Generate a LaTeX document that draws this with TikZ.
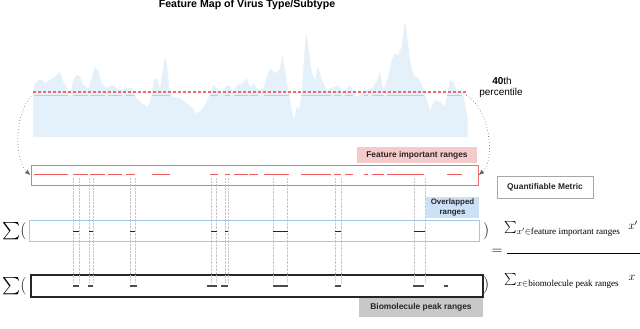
\documentclass[tikz,border=0pt]{standalone}
\usepackage{fontspec}
\setmainfont{Liberation Serif}
\setsansfont{Liberation Sans}
\usepackage{amsmath}
\usetikzlibrary{positioning,arrows.meta}
\definecolor{mapblue}{RGB}{229,241,250}
\definecolor{thrred}{RGB}{240,105,105}
\definecolor{segpink}{RGB}{246,182,182}
\definecolor{segred}{RGB}{240,90,92}
\definecolor{boxred}{RGB}{236,112,116}
\definecolor{tagpink}{RGB}{245,202,202}
\definecolor{boxblue}{RGB}{160,200,236}
\definecolor{tagblue}{RGB}{204,224,246}
\definecolor{taggray}{RGB}{200,200,200}
\tikzset{
  chartfill/.style={fill=mapblue, draw=none},
  thrline/.style={draw=thrred, line width=1.3pt, dash pattern=on 3pt off 2pt},
  chartseg/.style={draw=segpink, line width=1.6pt},
  rangeseg/.style={draw=segred, line width=1.1pt},
  hitseg/.style={draw=black!85, line width=1.7pt},
  peakseg/.style={draw=black!70, line width=1.2pt},
  dropline/.style={draw=gray!45, dash pattern=on 0.7pt off 0.7pt, line width=0.9pt},
  curvearrow/.style={draw=black!60, line width=0.8pt, line cap=round, dash pattern=on 0pt off 3pt, -{Latex[length=2mm, width=1.6mm]}},
  rangebox/.style={rectangle, inner sep=0pt},
  tagbox/.style={rectangle, inner sep=0pt, align=center, text=black!85, font=\sffamily\bfseries\fontsize{8.4}{9}\selectfont},
  sumtext/.style={inner sep=0pt, font=\fontsize{16}{16}\selectfont}
}
\begin{document}
\begin{tikzpicture}[x=1pt, y=-1pt]
  \useasboundingbox (0,0) rectangle (640,329);
  % feature map
  \fill[chartfill] (33.3,137) -- (33.3,91.7) -- (35,83.3) -- (38.3,80) -- (41.7,79.3) -- (45,83.3) -- (50,80)
    -- (55,76.7) -- (60,71.7) -- (63.3,81.7) -- (66.7,86.7) -- (70,96.7) -- (73.3,80) -- (76.7,75) -- (80,76.7)
    -- (83.3,85) -- (88.3,88.3) -- (91.7,78.3) -- (95,66.7) -- (98.3,71.7) -- (101.7,83.3) -- (106.7,88.3)
    -- (111.7,85) -- (116.7,88.3) -- (121.7,90) -- (126.7,88.3) -- (131.7,87.3) -- (135,96.7) -- (140,101.7)
    -- (146.7,106.7) -- (150,103.3) -- (154,80) -- (156.7,78.3) -- (160,88.3) -- (163.3,66.7) -- (165,56.7)
    -- (167.3,66.7) -- (169.3,88.3) -- (173.3,96.7) -- (180,98.3) -- (186.7,103.3) -- (191.7,106.7)
    -- (196,113.3) -- (200,111.7) -- (204,106.7) -- (208.3,98.3) -- (213.3,85) -- (216.7,88.3) -- (221.7,93.3)
    -- (226.7,85) -- (230,86.7) -- (233.3,91.7) -- (237.3,85) -- (241.7,83.3) -- (246.7,78.3) -- (250,87.3)
    -- (254,83.3) -- (258.3,90) -- (263.3,88.3) -- (266.7,76.7) -- (270,68.3) -- (275,73.3) -- (279.3,70)
    -- (282.7,55) -- (285,70) -- (288.3,90) -- (291.7,110) -- (294,120) -- (296.7,106.7) -- (299,110)
    -- (301.7,93.3) -- (304,60) -- (306,31.7) -- (308.3,46.7) -- (311.7,71.7) -- (315,80) -- (318,66)
    -- (322,80) -- (326.7,90) -- (333.3,87.3) -- (338.3,85) -- (343.3,91.7) -- (350,85) -- (356.7,96.7)
    -- (361.7,93.3) -- (366.7,90) -- (371.7,88.3) -- (376.7,81.7) -- (380,71.7) -- (383.3,90) -- (388.3,76.7)
    -- (391.7,60) -- (395,53.3) -- (398.3,55) -- (401.7,46.7) -- (405,20) -- (407.3,36.7) -- (410,60)
    -- (413.3,75) -- (418.3,78.3) -- (423.3,88.3) -- (426.7,100) -- (430,110) -- (435,100) -- (440,101.7)
    -- (445,106.7) -- (450,80) -- (453.3,81.7) -- (456.7,90) -- (461.7,90) -- (465,103.3) -- (467.7,120)
    -- (467.7,137) -- cycle;
  \foreach \a/\b in {34/68,73/88,90/105,108/122,126/135,152/170,210/218,225/230,234/248,249/258,264/289,301/331,334/341,345/353,364/368,372/384,387/424,447/462}
    \draw[chartseg] (\a,95.5) -- (\b,95.5);
  \draw[thrline] (33,92) -- (467,92);
  \coordinate (thrL) at (33,94);
  \coordinate (thrR) at (464,94);
  \node[inner sep=0pt, font=\sffamily\bfseries\fontsize{10.6}{11}\selectfont] (title) at (247,5) {Feature Map of Virus Type/Subtype};
  \node[inner sep=0pt, font=\sffamily\fontsize{10}{11}\selectfont] (pct) at (502,81) {\textbf{40}th};
  \node[inner sep=0pt, font=\sffamily\fontsize{10}{11}\selectfont] (pctword) at (501,93) {percentile};

  % ranges
  \node[rangebox, draw=boxred, line width=1pt, minimum width=447pt, minimum height=20.5pt] (redbox) at (254.5,175.3) {};
  \node[tagbox, fill=tagpink, minimum width=120pt, minimum height=16pt] (fimptag) at (417,155) {Feature important ranges};
  \node[rangebox, draw=boxblue, line width=0.9pt, minimum width=450pt, minimum height=21pt] (bluebox) at (254,230.5) {};
  \node[tagbox, fill=tagblue, minimum width=53pt, minimum height=21pt, font=\sffamily\bfseries\fontsize{7.9}{9.5}\selectfont] (overtag) at (452.5,207.5) {Overlapped\\ranges};
  \node[rangebox, draw=black!85, line width=1.3pt, minimum width=452pt, minimum height=22pt] (blackbox) at (257,286) {};
  \node[tagbox, fill=taggray, minimum width=124pt, minimum height=19pt] (biotag) at (421,307.5) {Biomolecule peak ranges};
  \node[tagbox, draw=gray!70, line width=0.9pt, minimum width=96pt, minimum height=22pt] (metric) at (545,187) {Quantifiable Metric};
  \draw[curvearrow] (thrL) .. controls (14,112) and (14,160) .. (redbox.west);
  \draw[curvearrow] (thrR) .. controls (490,106) and (496,160) .. (redbox.east);

  \foreach \a/\b in {34/68,73/88,90/105,108/122,126/135,152/170,210/218,225/230,234/248,249/258,264/289,301/331,334/341,345/353,364/368,372/384,387/424,447/462}
    \draw[rangeseg] (\a,174.5) -- (\b,174.5);
  \foreach \a/\b in {73/79,89/93,130/135,211/216,225/228,273/287,335/341,414/425} {
    \draw[dropline] (\a,178) -- (\a,283);
    \draw[dropline] (\b,178) -- (\b,283);
  }
  \foreach \a/\b in {73/79,89/93,130/135,211/217,225/228,273/288,335/341,414/425}
    \draw[hitseg] (\a,231.5) -- (\b,231.5);
  \foreach \a/\b in {73/79,88/93,130/137,207/217,221/228,273/288,335/341,413/424,444/448}
    \draw[peakseg] (\a,286) -- (\b,286);

  % metric
  \node[sumtext, anchor=west] (sumA) at (2,231) {$\sum($};
  \node[sumtext, anchor=west] (sumB) at (2,286) {$\sum($};
  \node[sumtext, anchor=west] (closeA) at (483,231) {$)$};
  \node[sumtext, anchor=west] (closeB) at (483,285) {$)$};
  \node[inner sep=0pt, font=\fontsize{15}{15}\selectfont] (eqsign) at (497,252) {$=$};
  \node[inner sep=0pt, anchor=west, font=\fontsize{13}{13}\selectfont] (numer) at (504,229) {$\sum_{x'\in\text{feature important ranges}}$};
  \node[inner sep=0pt, font=\fontsize{12}{12}\selectfont] (numx) at (633,225) {$x'$};
  \node[inner sep=0pt, anchor=west, font=\fontsize{13}{13}\selectfont] (denom) at (504,281) {$\sum_{x\in\text{biomolecule peak ranges}}$};
  \node[inner sep=0pt, font=\fontsize{12}{12}\selectfont] (denx) at (632,278) {$x$};
  \draw[line width=0.6pt] (507,253) -- (640,253);
\end{tikzpicture}
\end{document}
